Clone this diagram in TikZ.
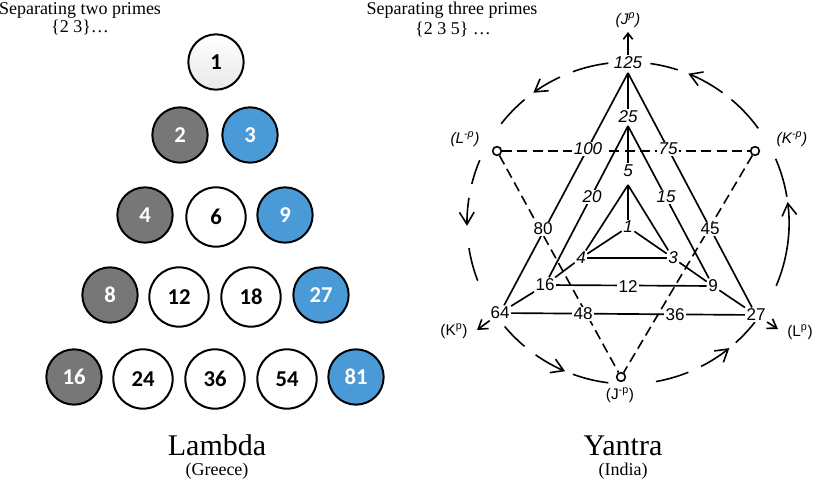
\documentclass[tikz,border=0pt]{standalone}
\usepackage{fontspec}
\setmainfont{Liberation Serif}
\newfontfamily\numfont{Carlito}
\newfontfamily\ysans{Liberation Sans}
\usetikzlibrary{arrows.meta}
\definecolor{lgray}{HTML}{777777}
\definecolor{lblue}{HTML}{4A9AD8}
\pgfdeclarelayer{background}
\pgfsetlayers{background,main}
\begin{document}
\begin{tikzpicture}[x=0.75pt,y=0.75pt,
  ball/.style={circle, draw=black, line width=1.5pt, inner sep=0pt,
    font=\numfont\bfseries\fontsize{17}{18}\selectfont},
  gball/.style={ball, fill=lgray, text=white, minimum size=41.5pt},
  bball/.style={ball, fill=lblue, text=white, minimum size=41.5pt},
  wball/.style={ball, fill=white, text=black, minimum size=44.5pt},
  topball/.style={ball, top color=white, bottom color=black!9, text=black, minimum size=41.5pt},
  serifs/.style={font=\fontsize{13.5}{15}\selectfont, inner sep=0pt},
  serifb/.style={font=\fontsize{22.5}{25}\selectfont, inner sep=0pt},
  yn/.style={font=\ysans\fontsize{12.8}{14}\selectfont, fill=white, inner sep=1pt},
  yni/.style={yn, font=\ysans\itshape\fontsize{12.8}{14}\selectfont},
  ylab/.style={font=\ysans\fontsize{11.5}{13}\selectfont, inner sep=0.5pt},
  ylabi/.style={ylab, font=\ysans\itshape\fontsize{11.5}{13}\selectfont},
  smallo/.style={circle, draw=black, line width=1.2pt, fill=white, minimum size=6.5pt, inner sep=0pt},
  yline/.style={line width=1.25pt},
  ydash/.style={line width=1.2pt, dash pattern=on 7.5pt off 4pt},
  circ/.style={line width=1.2pt},
  circarrow/.style={circ, -{Straight Barb[length=9pt,width=11pt,line width=1.2pt]}},
  outarrow/.style={yline, -{Straight Barb[length=6.5pt,width=8.5pt,line width=1.2pt]}},
  uparrow/.style={yline, -{Straight Barb[length=4.5pt,width=7pt,line width=1.2pt]}}
]
\useasboundingbox (0,0) rectangle (818,482);

% ---------- Lambda ----------
\node[topball] (a1) at (216,420) {1};
\node[gball] (a2) at (180,347) {2};
\node[bball] (a3) at (250,347) {3};
\node[gball] (a4) at (145,267) {4};
\node[wball] (a6) at (216,265) {6};
\node[bball] (a9) at (285,267) {9};
\node[gball] (a8) at (110,187) {8};
\node[wball] (a12) at (179,185) {12};
\node[wball] (a18) at (251,185) {18};
\node[bball] (a27) at (321,187) {27};
\node[gball] (a16) at (74,105) {16};
\node[wball] (a24) at (143,103) {24};
\node[wball] (a36) at (215,103) {36};
\node[wball] (a54) at (287,103) {54};
\node[bball] (a81) at (356,105) {81};

\node[serifs, anchor=base] (t1) at (80,467) {Separating two primes};
\node[serifs, anchor=base] (t2) at (80,449) {\{2 3\}…};
\node[serifb, anchor=base] (t5) at (217,26) {Lambda};
\node[serifs, anchor=base] (t6) at (217,6) {(Greece)};

% ---------- Yantra ----------
\node[serifs, anchor=base] (t3) at (452,467) {Separating three primes};
\node[serifs, anchor=base] (t4) at (453,447) {\{2 3 5\} …};
\node[serifb, anchor=base] (t7) at (623,26) {Yantra};
\node[serifs, anchor=base] (t8) at (623,6) {(India)};

\coordinate (O) at (628,259);
\coordinate (ap125) at (628,409);
\coordinate (ap25) at (628,356);
\coordinate (ap5) at (628,297);

\node[yni] (n125) at (628,419) {125};
\node[yni] (n25) at (628,365) {25};
\node[yni] (n5) at (628,311) {5};
\node[yni] (n1) at (628,255) {1};
\node[yni] (n4) at (581,224) {4};
\node[yni] (n3) at (673,224) {3};
\node[yni] (n100) at (588,333) {100};
\node[yni] (n75) at (668,333) {75};
\node[yni] (n20) at (592,285) {20};
\node[yni] (n15) at (666,285) {15};
\node[yn] (n80) at (543,253) {80};
\node[yn] (n45) at (710,253) {45};
\node[yn] (n16) at (545,197) {16};
\node[yn] (n12) at (628,195) {12};
\node[yn] (n9) at (713,196) {9};
\node[yn] (n64) at (500,169) {64};
\node[yn] (n48) at (583,168) {48};
\node[yn] (n36) at (675,167) {36};
\node[yn] (n27) at (756,167) {27};

\node[smallo] (Lm) at (497,331) {};
\node[smallo] (Km) at (755,331) {};
\node[smallo] (Jm) at (621,105) {};

\node[ylabi] (lLm) at (465,343) {(L\textsuperscript{-p})};
\node[ylabi] (lKm) at (792,343) {(K\textsuperscript{-p})};
\node[ylab] (lJm) at (620,87) {(J\textsuperscript{-p})};
\node[ylab] (lKp) at (454,151) {(K\textsuperscript{p})};
\node[ylab] (lLp) at (800,150) {(L\textsuperscript{p})};
\node[ylabi] (lJp) at (628,462) {(J\textsuperscript{p})};

\coordinate (tipJ) at (628,450);
\coordinate (tipK) at (477,152);
\coordinate (tipL) at (778,153);

\begin{pgfonlayer}{background}
  % solid lines
  \draw[yline] (ap125) -- (n64);
  \draw[yline] (ap125) -- (n27);
  \draw[yline] (ap125) -- (n25);
  \draw[yline] (ap25) -- (n16);
  \draw[yline] (ap25) -- (n9);
  \draw[yline] (ap25) -- (n5);
  \draw[yline] (ap5) -- (n4);
  \draw[yline] (ap5) -- (n3);
  \draw[yline] (ap5) -- (n1);
  \draw[yline] (n1) -- (n4);
  \draw[yline] (n1) -- (n3);
  \draw[yline] (n4) -- (n3);
  \draw[yline] (n4) -- (n16);
  \draw[yline] (n16) -- (n64);
  \draw[yline] (n3) -- (n9);
  \draw[yline] (n9) -- (n27);
  \draw[yline] (n16) -- (n9);
  \draw[yline] (n64) -- (n27);
  % dashed triangle
  \draw[ydash] (Lm) -- (Km);
  \draw[ydash] (Lm) -- (Jm);
  \draw[ydash] (Km) -- (Jm);
  % circle
  \foreach \a/\b in {72/82, 97/110, 130/142, 157/166, 189/201, 220/230,
                     250/263, 280/292, 312/322, 369.4/383.5, 36/50}
    \draw[circ] (O) ++(\a:161) arc[start angle=\a, end angle=\b, radius=161];
  \foreach \a/\b in {54/68, 115/126, 171/181, 235/247, 297/309, 337/367.5}
    \draw[circarrow] (O) ++(\a:161) arc[start angle=\a, end angle=\b, radius=161];
\end{pgfonlayer}

% outward arrows
\draw[uparrow] (n125) -- (tipJ);
\draw[outarrow] (n64) -- (tipK);
\draw[outarrow] (n27) -- (tipL);
\end{tikzpicture}
\end{document}
